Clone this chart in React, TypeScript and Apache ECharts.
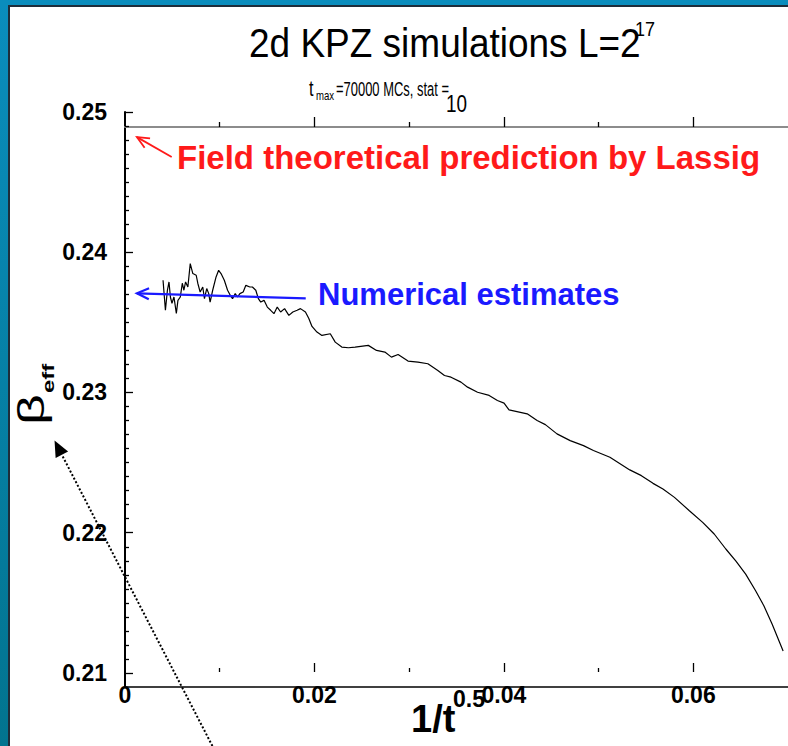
import React, { useEffect, useRef } from "react";
import * as echarts from "echarts";

// Effective growth exponent vs 1/t^0.5 (2d KPZ, L = 2^17)
const X_VALUES = [
  0.004016, 0.004267, 0.004477, 0.004645, 0.004792, 0.004959, 0.005169, 0.005421, 0.005589, 0.00584,
  0.00605, 0.006218, 0.006396, 0.006637, 0.006889, 0.007161, 0.007518, 0.007685, 0.007937, 0.00821,
  0.008388, 0.008629, 0.008839, 0.008986, 0.009258, 0.009615, 0.009887, 0.010139, 0.010485, 0.010831,
  0.011114, 0.011355, 0.011638, 0.01188, 0.012131, 0.012477, 0.01276, 0.01318, 0.013452, 0.013809,
  0.014081, 0.014333, 0.014679, 0.015025, 0.015382, 0.015727, 0.016073, 0.01643, 0.016849, 0.0173,
  0.01772, 0.018171, 0.018527, 0.019051, 0.019397, 0.019743, 0.020267, 0.020792, 0.021673, 0.022197,
  0.022889, 0.023591, 0.024294, 0.025688, 0.026558, 0.027439, 0.028131, 0.028834, 0.029882, 0.030931,
  0.031979, 0.033028, 0.03373, 0.034422, 0.035471, 0.036173, 0.037222, 0.038448, 0.039318, 0.040021,
  0.040545, 0.042464, 0.043512, 0.044383, 0.045609, 0.047004, 0.048409, 0.049457, 0.051198, 0.053295,
  0.054522, 0.055748, 0.056797, 0.058013, 0.059586, 0.060991, 0.062208, 0.063434, 0.064483, 0.065531,
  0.066579, 0.06745, 0.068331, 0.069484,
];
const BETA_EFF = [
  0.238, 0.23586, 0.23729, 0.23788, 0.23681, 0.23636, 0.23681, 0.23564, 0.23657, 0.23681,
  0.23779, 0.23729, 0.23788, 0.23752, 0.23919, 0.23848, 0.23836, 0.23779, 0.23716, 0.23752,
  0.23669, 0.23741, 0.23705, 0.23645, 0.23729, 0.23824, 0.23871, 0.23848, 0.238, 0.23729,
  0.23693, 0.23669, 0.23705, 0.23681, 0.23705, 0.23716, 0.23764, 0.23752, 0.23752, 0.23729,
  0.23669, 0.23645, 0.23657, 0.23609, 0.23586, 0.23562, 0.23609, 0.23574, 0.23598, 0.2355,
  0.23574, 0.23586, 0.23598, 0.23574, 0.23529, 0.23471, 0.23431, 0.23407, 0.23419, 0.23359,
  0.23324, 0.23319, 0.23324, 0.23336, 0.233, 0.23288, 0.23252, 0.23271, 0.23224, 0.23216,
  0.23205, 0.23157, 0.23121, 0.23109, 0.23074, 0.23038, 0.23002, 0.22979, 0.22943, 0.22924,
  0.22876, 0.22848, 0.228, 0.22771, 0.22705, 0.22657, 0.22621, 0.22586, 0.22538, 0.22448,
  0.22407, 0.22352, 0.22312, 0.22252, 0.22157, 0.22074, 0.21991, 0.21884, 0.218, 0.21705,
  0.21586, 0.21479, 0.21348, 0.21157,
];

// Axis ticks
const X_LABELS = [0, 0.02, 0.04, 0.06];
const X_MAJOR = [0.02, 0.04, 0.06];
const X_MINOR = [0.01, 0.03, 0.05];
const Y_LABELS = [0.21, 0.22, 0.23, 0.24, 0.25];
const Y_MINOR: number[] = [];
for (let i = 211; i < 250; i++) if (i % 10 !== 0) Y_MINOR.push(i / 1000);

// Annotation arrows [x from, y from, x to, y to] in data units
const RED_ARROW = [0.00493, 0.24679, 0.00126, 0.24821];
const BLUE_ARROW = [0.01908, 0.23671, 0.00126, 0.23707];
const TREND_ARROW = [0.00923, 0.20479, -0.00744, 0.22657];

const FONT = '"Liberation Sans", Arial, Helvetica, sans-serif';
const W = 788;
const H = 746;

function arrowRender(params: any, api: any) {
  const p1 = api.coord([api.value(0), api.value(1)]);
  const p2 = api.coord([api.value(2), api.value(3)]);
  const kind = params.dataIndex;
  const dx = p2[0] - p1[0];
  const dy = p2[1] - p1[1];
  const len = Math.sqrt(dx * dx + dy * dy);
  const ux = dx / len;
  const uy = dy / len;
  const nx = -uy;
  const ny = ux;
  if (kind === 2) {
    const hl = 16;
    const hw = 7;
    const bx = p2[0] - ux * hl;
    const by = p2[1] - uy * hl;
    return {
      type: "group",
      children: [
        {
          type: "line",
          shape: { x1: p1[0], y1: p1[1], x2: bx, y2: by },
          style: { stroke: "#000", lineWidth: 2, lineDash: [2, 2] },
        },
        {
          type: "polygon",
          shape: {
            points: [
              [p2[0], p2[1]],
              [bx + nx * hw, by + ny * hw],
              [bx - nx * hw, by - ny * hw],
            ],
          },
          style: { fill: "#000" },
        },
      ],
    };
  }
  const color = kind === 0 ? "#ff1a1a" : "#1a1aff";
  const hl = 12;
  const hw = 5.5;
  const bx = p2[0] - ux * hl;
  const by = p2[1] - uy * hl;
  return {
    type: "group",
    children: [
      {
        type: "line",
        shape: { x1: p1[0], y1: p1[1], x2: p2[0], y2: p2[1] },
        style: { stroke: color, lineWidth: kind === 0 ? 1.8 : 2.2 },
      },
      {
        type: "polyline",
        shape: {
          points: [
            [bx + nx * hw, by + ny * hw],
            [p2[0], p2[1]],
            [bx - nx * hw, by - ny * hw],
          ],
        },
        style: { stroke: color, lineWidth: kind === 0 ? 1.8 : 2.2, fill: null },
      },
    ],
  };
}

export default function App() {
  const ref = useRef<HTMLDivElement>(null);

  useEffect(() => {
    if (!ref.current) return;
    const chart = echarts.init(ref.current, null, { renderer: "svg", width: W, height: H });

    const lineData = X_VALUES.map((x, i) => [x, BETA_EFF[i]]);
    const xBase = { type: "value", min: 0, max: 0.07, splitLine: { show: false } };
    const yBase = { type: "value", min: 0.209, max: 0.25, splitLine: { show: false } };
    const tickStyle = { color: "#000", width: 1.3 };

    chart.setOption({
      animation: false,
      backgroundColor: "#ffffff",
      grid: { left: 125, top: 112, right: -4, bottom: 59, containLabel: false },
      xAxis: [
        {
          ...xBase,
          position: "bottom",
          axisLine: { show: true, onZero: false, lineStyle: { color: "#000", width: 1.6 } },
          axisTick: { show: false },
          axisLabel: {
            customValues: X_LABELS,
            margin: -4,
            color: "#000",
            fontFamily: FONT,
            fontSize: 23,
            fontWeight: "bold",
            formatter: (v: number) => (v === 0 ? "0" : v.toFixed(2)),
          },
        },
        {
          ...xBase,
          position: "bottom",
          offset: -15,
          axisLine: { show: false },
          axisTick: { show: true, inside: true, length: 9, customValues: X_MAJOR, lineStyle: tickStyle },
          axisLabel: { show: false },
        },
        {
          ...xBase,
          position: "bottom",
          offset: -15,
          axisLine: { show: false },
          axisTick: { show: true, inside: true, length: 4, customValues: X_MINOR, lineStyle: tickStyle },
          axisLabel: { show: false },
        },
        {
          ...xBase,
          position: "top",
          offset: -15,
          axisLine: { show: true, onZero: false, lineStyle: { color: "#8c8c8c", width: 2 } },
          axisTick: { show: true, inside: false, length: 10, customValues: X_MAJOR, lineStyle: tickStyle },
          axisLabel: { show: false },
        },
        {
          ...xBase,
          position: "top",
          offset: -15,
          axisLine: { show: false },
          axisTick: { show: true, inside: false, length: 5, customValues: X_MINOR, lineStyle: tickStyle },
          axisLabel: { show: false },
        },
      ],
      yAxis: [
        {
          ...yBase,
          position: "left",
          axisLine: { show: true, onZero: false, lineStyle: { color: "#000", width: 2 } },
          axisTick: { show: true, inside: true, length: 8, customValues: Y_LABELS, lineStyle: tickStyle },
          axisLabel: {
            customValues: Y_LABELS,
            margin: 18,
            color: "#000",
            fontFamily: FONT,
            fontSize: 23,
            fontWeight: "bold",
            formatter: (v: number) => v.toFixed(2),
          },
        },
        {
          ...yBase,
          position: "left",
          axisLine: { show: false },
          axisTick: { show: true, inside: true, length: 4, customValues: Y_MINOR, lineStyle: tickStyle },
          axisLabel: { show: false },
        },
      ],
      series: [
        {
          type: "line",
          name: "beta_eff",
          xAxisIndex: 0,
          yAxisIndex: 0,
          data: lineData,
          symbol: "none",
          clip: true,
          lineStyle: { color: "#000", width: 1.2 },
          z: 3,
        },
        {
          type: "custom",
          name: "annotations",
          xAxisIndex: 0,
          yAxisIndex: 0,
          clip: false,
          renderItem: arrowRender,
          encode: { x: [0, 2], y: [1, 3] },
          data: [RED_ARROW, BLUE_ARROW, TREND_ARROW],
          z: 4,
        },
      ],
      graphic: [
        // slide frame
        {
          type: "rect",
          shape: { x: 0, y: 0, width: 8, height: H },
          style: {
            fill: new echarts.graphic.LinearGradient(0, 0, 0, 1, [
              { offset: 0, color: "#0a8dbd" },
              { offset: 1, color: "#02748f" },
            ]),
          },
          silent: true,
        },
        { type: "rect", shape: { x: 0, y: 0, width: W, height: 5 }, style: { fill: "#0a8dbd" }, silent: true },
        { type: "rect", shape: { x: 8, y: 5, width: 2, height: H }, style: { fill: "#1e2d3a" }, silent: true },
        { type: "rect", shape: { x: 8, y: 5, width: W, height: 2 }, style: { fill: "#1e2d3a" }, silent: true },
        // title
        {
          type: "text",
          x: 249,
          y: 42,
          scaleY: 1.12,
          style: {
            text: "2d KPZ simulations L=2",
            font: `normal 37px ${FONT}`,
            fill: "#000",
            textAlign: "left",
            textVerticalAlign: "middle",
          },
        },
        {
          type: "text",
          x: 635,
          y: 29,
          scaleY: 1.1,
          style: { text: "17", font: `normal 18px ${FONT}`, fill: "#000", textAlign: "left", textVerticalAlign: "middle" },
        },
        // subtitle
        {
          type: "text",
          x: 309,
          y: 89,
          scaleX: 0.85,
          scaleY: 1.12,
          style: { text: "t", font: `normal 19px ${FONT}`, fill: "#000", textAlign: "left", textVerticalAlign: "middle" },
        },
        {
          type: "text",
          x: 316,
          y: 96,
          scaleX: 0.8,
          style: { text: "max", font: `normal 12px ${FONT}`, fill: "#000", textAlign: "left", textVerticalAlign: "middle" },
        },
        {
          type: "text",
          x: 336,
          y: 89,
          scaleX: 0.72,
          scaleY: 1.15,
          style: {
            text: "=70000 MCs, stat =",
            font: `normal 18px ${FONT}`,
            fill: "#000",
            textAlign: "left",
            textVerticalAlign: "middle",
          },
        },
        {
          type: "text",
          x: 446,
          y: 104,
          scaleX: 0.9,
          scaleY: 1.1,
          style: { text: "10", font: `normal 21px ${FONT}`, fill: "#000", textAlign: "left", textVerticalAlign: "middle" },
        },
        // annotations text
        {
          type: "text",
          x: 177,
          y: 157,
          style: {
            text: "Field theoretical prediction by Lassig",
            font: `bold 33px ${FONT}`,
            fill: "#ff1a1a",
            textAlign: "left",
            textVerticalAlign: "middle",
          },
        },
        {
          type: "text",
          x: 318,
          y: 294,
          style: {
            text: "Numerical estimates",
            font: `bold 31px ${FONT}`,
            fill: "#1a1aff",
            textAlign: "left",
            textVerticalAlign: "middle",
          },
        },
        // y axis name
        {
          type: "group",
          x: 31,
          y: 425,
          rotation: Math.PI / 2,
          children: [
            {
              type: "text",
              x: 0,
              y: 0,
              scaleX: 1.45,
              style: { text: "β", font: `normal 37px ${FONT}`, fill: "#000", textAlign: "left", textVerticalAlign: "middle" },
            },
            {
              type: "text",
              x: 32,
              y: 17,
              scaleX: 1.4,
              style: { text: "eff", font: `bold 17px ${FONT}`, fill: "#000", textAlign: "left", textVerticalAlign: "middle" },
            },
          ],
        },
        // x axis name
        {
          type: "text",
          x: 411,
          y: 719,
          style: { text: "1/t", font: `bold 38px ${FONT}`, fill: "#000", textAlign: "left", textVerticalAlign: "middle" },
        },
        {
          type: "text",
          x: 453,
          y: 699,
          style: { text: "0.5", font: `bold 23px ${FONT}`, fill: "#000", textAlign: "left", textVerticalAlign: "middle" },
        },
      ],
    });

    return () => {
      chart.dispose();
    };
  }, []);

  return <div ref={ref} style={{ position: "fixed", left: 0, top: 0, width: W, height: H }} />;
}
